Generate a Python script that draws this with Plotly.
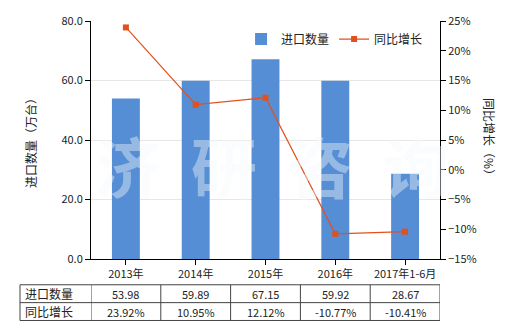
import plotly.graph_objects as go

categories = ["2013年", "2014年", "2015年", "2016年", "2017年1-6月"]
import_qty = [53.98, 59.89, 67.15, 59.92, 28.67]
yoy_growth = [23.92, 10.95, 12.12, -10.77, -10.41]
qty_labels = ["53.98", "59.89", "67.15", "59.92", "28.67"]
yoy_labels = ["23.92%", "10.95%", "12.12%", "-10.77%", "-10.41%"]
row_names = ["进口数量", "同比增长"]

FONT = "Noto Sans CJK SC"
BAR = "#558ED5"
LINE = "#E2501D"

fig = go.Figure()
fig.add_trace(go.Bar(x=list(range(len(categories))), y=import_qty, name="进口数量",
                     marker=dict(color=BAR, line=dict(width=0)), width=0.4, yaxis="y"))
fig.add_trace(go.Scatter(x=list(range(len(categories))), y=yoy_growth, name="同比增长",
                         mode="lines+markers", line=dict(color=LINE, width=1.2),
                         marker=dict(symbol="square", size=6, color=LINE), yaxis="y2"))

fig.update_layout(
    width=520, height=330,
    margin=dict(l=91, r=80, t=19, b=71),
    paper_bgcolor="white", plot_bgcolor="white",
    font=dict(family=FONT, size=11, color="#222"),
    showlegend=True,
    legend=dict(orientation="h", x=0.43, y=0.985, xanchor="left", yanchor="top",
                font=dict(size=12, color="#222"), bgcolor="rgba(0,0,0,0)",
                itemwidth=30, tracegroupgap=0),
    xaxis=dict(range=[-0.5, len(categories) - 0.5], tickmode="array",
               tickvals=list(range(len(categories))), ticktext=categories,
               showline=True, linecolor="#000", linewidth=1, ticks="outside",
               ticklen=5, tickcolor="#000", showgrid=False, zeroline=False,
               tickfont=dict(size=11)),
    yaxis=dict(range=[0, 80], dtick=20, tickformat=".1f", showline=True,
               linecolor="#000", linewidth=1, ticks="outside", ticklen=5,
               tickcolor="#000", showgrid=True, gridcolor="#E6E6E6",
               zeroline=False, tickfont=dict(size=11)),
    yaxis2=dict(range=[-15, 25], dtick=5, ticksuffix="%", overlaying="y",
                side="right", showline=True, linecolor="#000", linewidth=1,
                ticks="outside", ticklen=5, tickcolor="#000", showgrid=False,
                zeroline=False, tickfont=dict(size=11)),
)

anns = []
# watermark
anns.append(dict(text="<b>济  研  咨  询</b>", xref="paper", yref="paper", x=0.52, y=0.40,
                 xanchor="center", yanchor="middle", showarrow=False,
                 font=dict(size=66, color="rgba(244,247,251,0.42)", family=FONT)))
# axis titles
anns.append(dict(text="进口数量（万台）", xref="paper", yref="paper", x=-0.175, y=0.5,
                 xanchor="center", yanchor="middle",
                 textangle=-90, showarrow=False, font=dict(size=12, color="#222")))
anns.append(dict(text="同比增长（%）", xref="paper", yref="paper", x=1.143, y=0.5,
                 xanchor="center", yanchor="middle",
                 textangle=90, showarrow=False, font=dict(size=12, color="#222")))

# table
y_top, y_mid, y_bot = -0.1083, -0.1833, -0.2583
x_left = -0.2034
shapes = []
lc = dict(color="#444", width=1)
for yy in (y_top, y_mid, y_bot):
    shapes.append(dict(type="line", xref="paper", yref="paper", x0=x_left, x1=1.0,
                       y0=yy, y1=yy, line=lc))
shapes.append(dict(type="line", xref="paper", yref="paper", x0=x_left, x1=x_left,
                   y0=y_top, y1=y_bot, line=lc))
for i in range(len(categories) + 1):
    shapes.append(dict(type="line", xref="x", yref="paper", x0=i - 0.5, x1=i - 0.5,
                       y0=y_top, y1=y_bot, line=lc))

for r, (name, labels) in enumerate(zip(row_names, [qty_labels, yoy_labels])):
    yc = (y_top + y_mid) / 2 if r == 0 else (y_mid + y_bot) / 2
    anns.append(dict(text=name, xref="paper", yref="paper", x=x_left + 0.008, y=yc,
                     xanchor="left", yanchor="middle", showarrow=False,
                     font=dict(size=12, color="#222")))
    for i, lab in enumerate(labels):
        anns.append(dict(text=lab, xref="x", yref="paper", x=i, y=yc,
                         xanchor="center", yanchor="middle", showarrow=False,
                         font=dict(size=11, color="#222")))

fig.update_layout(annotations=anns, shapes=shapes)
fig.write_html("out.html")
